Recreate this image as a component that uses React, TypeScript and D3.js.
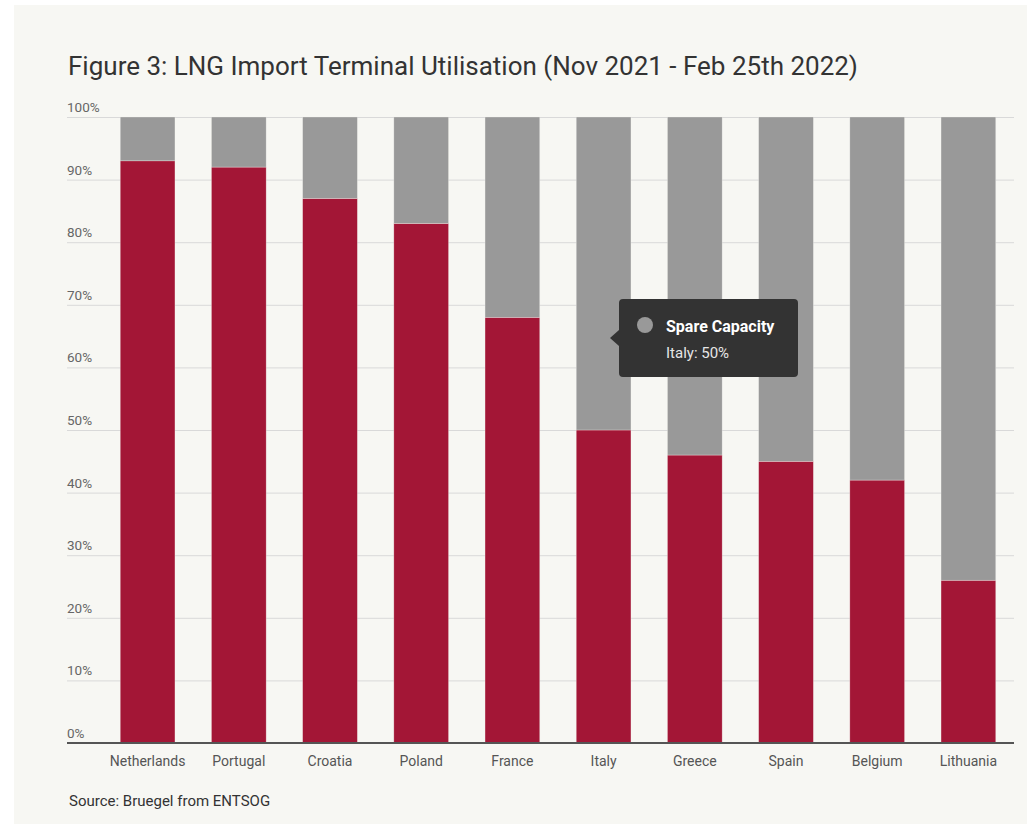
import React, { useEffect, useRef } from "react";
import * as d3 from "d3";

const countries = [
  "Netherlands",
  "Portugal",
  "Croatia",
  "Poland",
  "France",
  "Italy",
  "Greece",
  "Spain",
  "Belgium",
  "Lithuania",
];
const utilisation = [93, 92, 87, 83, 68, 50, 46, 45, 42, 26];
const spareCapacity = utilisation.map((v) => 100 - v);
const yTicks = [0, 10, 20, 30, 40, 50, 60, 70, 80, 90, 100];

const TITLE = "Figure 3: LNG Import Terminal Utilisation (Nov 2021 - Feb 25th 2022)";
const SOURCE = "Source: Bruegel from ENTSOG";
const FONT = "Roboto, 'DejaVu Sans', sans-serif";

function App(): JSX.Element {
  const ref = useRef<SVGSVGElement>(null);

  useEffect(() => {
    if (!ref.current) return;
    const svg = d3.select(ref.current);
    svg.selectAll("*").remove();

    const width = 1029;
    const height = 824;
    const gridLeft = 67;
    const plotRight = 1014;
    const barLeft = 102;
    const yTop = 117;
    const yBottom = 743;

    // panel background
    svg
      .append("rect")
      .attr("x", 14)
      .attr("y", 5)
      .attr("width", width - 16)
      .attr("height", height - 5)
      .attr("fill", "#f7f7f3");

    const x = d3
      .scaleBand<string>()
      .domain(countries)
      .range([barLeft, plotRight])
      .paddingInner(0.4)
      .paddingOuter(0.2);

    const y = d3.scaleLinear().domain([0, 100]).range([yBottom, yTop]);

    // grid + y labels
    const grid = svg.append("g");
    yTicks.forEach((t) => {
      if (t > 0) {
        grid
          .append("line")
          .attr("x1", gridLeft)
          .attr("x2", plotRight)
          .attr("y1", y(t) + 0.5)
          .attr("y2", y(t) + 0.5)
          .attr("stroke", "#d9d9d9")
          .attr("stroke-width", 1);
      }
      grid
        .append("text")
        .attr("x", gridLeft)
        .attr("y", y(t) - 5)
        .attr("font-family", FONT)
        .attr("font-size", 13.5)
        .attr("fill", "#666")
        .text(`${t}%`);
    });

    // stacked bars
    const stackData = countries.map((c, i) => ({
      country: c,
      used: utilisation[i],
      spare: spareCapacity[i],
    }));
    const series = d3
      .stack<{ country: string; used: number; spare: number }>()
      .keys(["used", "spare"])(stackData);
    const colors = ["#a31636", "#999999"];

    series.forEach((s, si) => {
      svg
        .append("g")
        .selectAll("rect")
        .data(s)
        .enter()
        .append("rect")
        .attr("x", (d) => x(d.data.country)!)
        .attr("width", x.bandwidth())
        .attr("y", (d) => y(d[1]))
        .attr("height", (d) => y(d[0]) - y(d[1]))
        .attr("fill", colors[si])
        .attr("stroke", "#f7f7f3")
        .attr("stroke-opacity", 0.5)
        .attr("stroke-width", 0.6);
    });

    // x axis line
    svg
      .append("line")
      .attr("x1", gridLeft)
      .attr("x2", plotRight)
      .attr("y1", yBottom)
      .attr("y2", yBottom)
      .attr("stroke", "#555")
      .attr("stroke-width", 2);

    // x labels
    svg
      .append("g")
      .selectAll("text")
      .data(countries)
      .enter()
      .append("text")
      .attr("x", (d) => x(d)! + x.bandwidth() / 2)
      .attr("y", 766)
      .attr("text-anchor", "middle")
      .attr("font-family", FONT)
      .attr("font-size", 14)
      .attr("fill", "#555")
      .text((d) => d);

    // title
    svg
      .append("text")
      .attr("x", 68)
      .attr("y", 75)
      .attr("font-family", FONT)
      .attr("font-size", 26)
      .attr("fill", "#333")
      .text(TITLE);

    // source
    svg
      .append("text")
      .attr("x", 69)
      .attr("y", 806)
      .attr("font-family", FONT)
      .attr("font-size", 15)
      .attr("fill", "#333")
      .text(SOURCE);

    // tooltip for Italy
    const idx = countries.indexOf("Italy");
    const tx = 619;
    const ty = 299;
    const tw = 179;
    const th = 78;
    const tip = svg.append("g");
    tip
      .append("path")
      .attr(
        "d",
        `M${tx + 4},${ty} H${tx + tw - 4} Q${tx + tw},${ty} ${tx + tw},${ty + 4} V${ty + th - 4} Q${tx + tw},${ty + th} ${tx + tw - 4},${ty + th} H${tx + 4} Q${tx},${ty + th} ${tx},${ty + th - 4} V${ty + 47} L${tx - 9},${ty + 39} L${tx},${ty + 31} V${ty + 4} Q${tx},${ty} ${tx + 4},${ty} Z`
      )
      .attr("fill", "#333333");
    tip
      .append("circle")
      .attr("cx", tx + 26)
      .attr("cy", ty + 26)
      .attr("r", 8)
      .attr("fill", colors[1]);
    tip
      .append("text")
      .attr("x", tx + 47)
      .attr("y", ty + 33)
      .attr("font-family", FONT)
      .attr("font-size", 16)
      .attr("font-weight", "bold")
      .attr("fill", "#fff")
      .text("Spare Capacity");
    tip
      .append("text")
      .attr("x", tx + 47)
      .attr("y", ty + 59)
      .attr("font-family", FONT)
      .attr("font-size", 15)
      .attr("fill", "#e6e6e6")
      .text(`${countries[idx]}: ${spareCapacity[idx]}%`);
  }, []);

  return (
    <svg
      ref={ref}
      width={1029}
      height={824}
      style={{ position: "absolute", left: 0, top: 0, background: "#fff" }}
    />
  );
}

export default App;
